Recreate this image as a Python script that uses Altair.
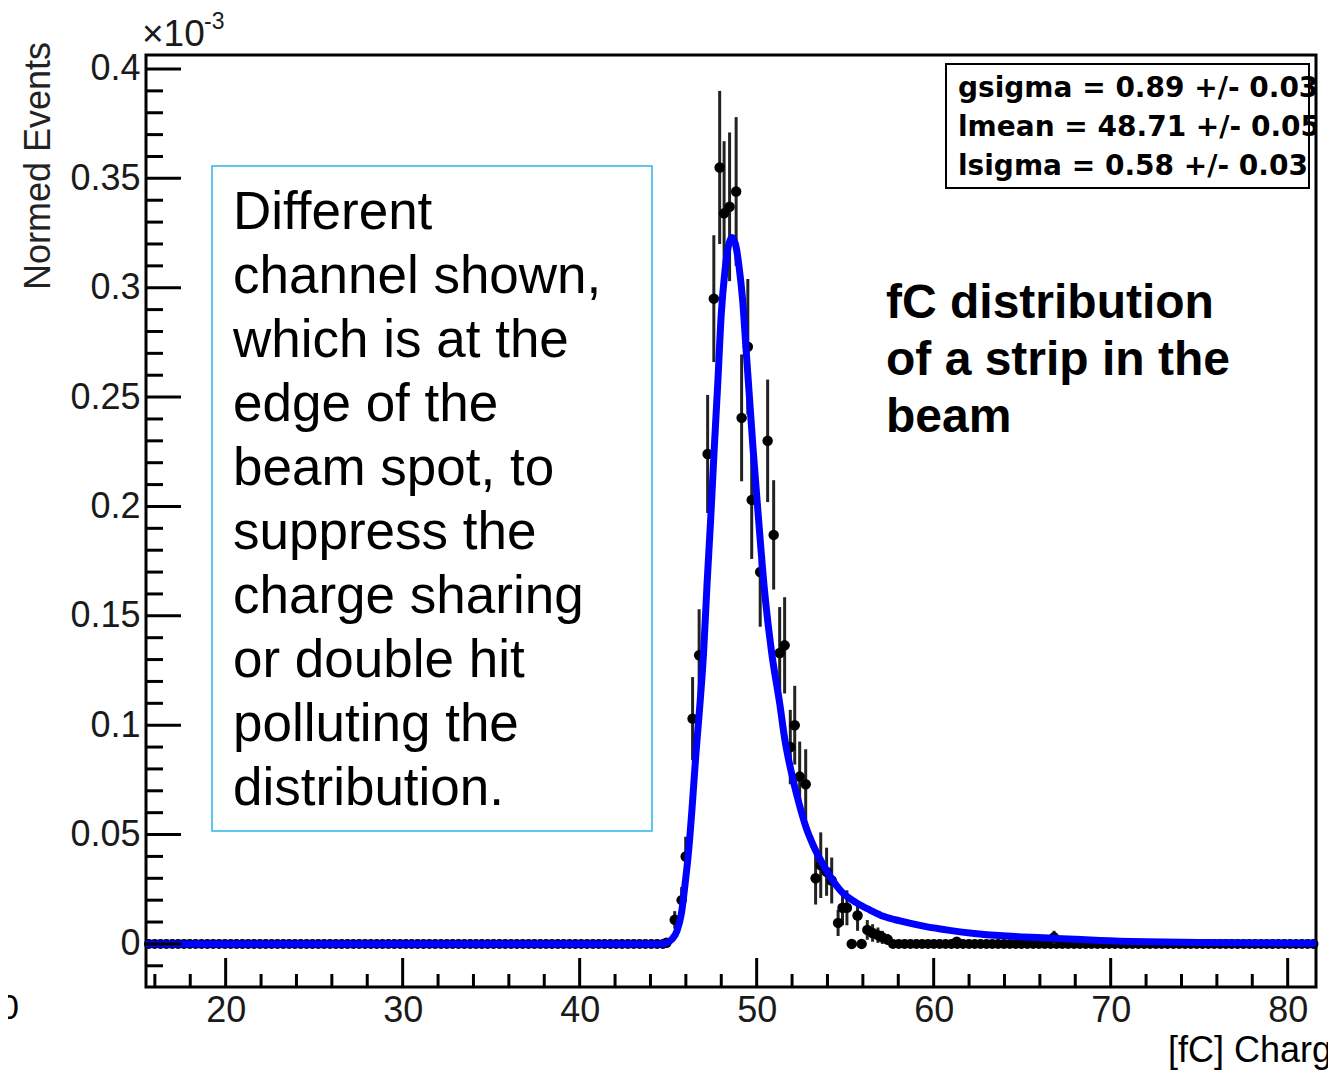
import altair as alt
import pandas as pd
import numpy as np

# ---------------- data ----------------
# histogram bins with content (x in fC, y in units of 1e-3 normed events, e = error)
pt_x = [44.9, 45.37, 45.76, 45.99, 46.38, 46.75, 47.23, 47.58, 47.91, 48.16,
        48.47, 48.84, 49.15, 49.5, 49.72, 50.2, 50.62, 50.96, 51.3, 51.58,
        51.9, 52.15, 52.43, 52.77, 53.33, 53.62, 53.95, 54.24, 54.6, 54.85,
        55.1, 55.37, 55.7, 55.93, 56.25, 56.55, 56.85, 57.1, 57.4, 61.3, 66.8]
pt_y = [0.0005, 0.011, 0.020, 0.040, 0.103, 0.132, 0.224, 0.295, 0.355, 0.334,
        0.337, 0.344, 0.2405, 0.273, 0.203, 0.170, 0.230, 0.187, 0.133, 0.1365,
        0.090, 0.100, 0.0765, 0.073, 0.030, 0.036, 0.033, 0.029, 0.0096, 0.0165,
        0.0165, 0.0, 0.013, 0.0, 0.0064, 0.005, 0.004, 0.003, 0.002, 0.001, 0.003]
pt_e = [0.0, 0.004, 0.006, 0.009, 0.019, 0.021, 0.027, 0.029, 0.035, 0.033,
        0.034, 0.034, 0.029, 0.031, 0.027, 0.025, 0.028, 0.025, 0.021, 0.022,
        0.017, 0.018, 0.016, 0.016, 0.012, 0.015, 0.011, 0.0105, 0.006, 0.008,
        0.008, 0.0, 0.007, 0.0, 0.0045, 0.004, 0.0035, 0.003, 0.0025, 0.002, 0.003]

# empty bins (content 0) - histogram bin centres, bin width 0.33 fC
bin_width = 0.33
zero_x = [round(v, 3) for v in np.arange(15.665, 44.8, bin_width)] + \
         [round(v, 3) for v in np.arange(57.7, 81.6, bin_width)]
zero_y = [0.0] * len(zero_x)

# fitted Landau (x) Gauss curve
fit_x = [15.5, 44.5, 44.9, 45.2, 45.5, 45.75, 45.95, 46.15, 46.35, 46.55,
         46.75, 47.0, 47.2, 47.4, 47.6, 47.8, 48.0, 48.2, 48.4, 48.6,
         48.8, 49.0, 49.2, 49.4, 49.6, 49.8, 50.05, 50.45, 50.85, 51.3,
         51.6, 52.0, 52.4, 52.8, 53.2, 53.7, 54.3, 54.9, 55.6, 56.4,
         57.2, 58.1, 59.5, 60.9, 62.3, 63.7, 65.1, 66.5, 68.0, 69.4,
         72.0, 75.0, 78.0, 81.6]
fit_y = [0.0, 0.0, 0.0005, 0.002, 0.006, 0.014, 0.027, 0.042, 0.062, 0.085,
         0.105, 0.133, 0.165, 0.194, 0.226, 0.256, 0.288, 0.307, 0.319, 0.323,
         0.320, 0.310, 0.295, 0.272, 0.249, 0.226, 0.200, 0.161, 0.133, 0.110,
         0.093, 0.077, 0.064, 0.053, 0.045, 0.037, 0.029, 0.023, 0.019, 0.0155,
         0.0125, 0.0105, 0.008, 0.0062, 0.0048, 0.0038, 0.0032, 0.0027, 0.0021, 0.0016,
         0.0010, 0.0006, 0.0004, 0.0003]

# axis tick positions / labels
x_labels = [20, 30, 40, 50, 60, 70, 80]
x_minor = [16, 18, 22, 24, 26, 28, 32, 34, 36, 38, 42, 44, 46, 48, 52, 54, 56, 58,
           62, 64, 66, 68, 72, 74, 76, 78]
y_labels = [0, 0.05, 0.1, 0.15, 0.2, 0.25, 0.3, 0.35, 0.4]
y_minor = [-0.01, 0.01, 0.02, 0.03, 0.04, 0.06, 0.07, 0.08, 0.09, 0.11, 0.12, 0.13,
           0.14, 0.16, 0.17, 0.18, 0.19, 0.21, 0.22, 0.23, 0.24, 0.26, 0.27, 0.28,
           0.29, 0.31, 0.32, 0.33, 0.34, 0.36, 0.37, 0.38, 0.39]

stats_lines = "gsigma = 0.89 +/- 0.03\nlmean = 48.71 +/- 0.05\nlsigma = 0.58 +/- 0.03"
note_lines = ("Different\nchannel shown,\nwhich is at the\nedge of the\nbeam spot, to\n"
              "suppress the\ncharge sharing\nor double hit\npolluting the\ndistribution.")
side_lines = "fC distribution\nof a strip in the\nbeam"

# ---------------- chart ----------------
W, H = 1170, 932
xs = alt.Scale(domain=[15.5, 81.6], nice=False, zero=False)
ys = alt.Scale(domain=[-0.0197, 0.4064], nice=False, zero=False)
FONT = "Liberation Sans"

axis_common = dict(title=None, grid=False, ticks=False, tickSize=0, domain=False,
                   labelFont=FONT, labelFontSize=36, labelColor="#1a1a1a",
                   labelPadding=6, labelFlush=False, labelOverlap=False)
XAX = alt.Axis(values=x_labels, format="d", **axis_common)
YAX = alt.Axis(values=y_labels, format="~g", **axis_common)

pts = pd.DataFrame({"x": pt_x, "y": pt_y, "e": pt_e})
pts["lo"] = pts["y"] - pts["e"]
pts["hi"] = pts["y"] + pts["e"]
zeros = pd.DataFrame({"x": zero_x, "y": zero_y})
curve = pd.DataFrame({"x": fit_x, "y": fit_y})
one = pd.DataFrame({"k": [0]})


def X(f):
    return alt.X(f, scale=xs, axis=XAX)


def Y(f):
    return alt.Y(f, scale=ys, axis=YAX)


zero_layer = alt.Chart(zeros).mark_circle(size=100, color="black", opacity=1).encode(
    x=X("x:Q"), y=Y("y:Q"))

err_layer = alt.Chart(pts).mark_rule(color="#222222", strokeWidth=3).encode(
    x=X("x:Q"), y=Y("lo:Q"), y2="hi:Q")

pt_layer = alt.Chart(pts).mark_circle(size=110, color="black", opacity=1).encode(
    x=X("x:Q"), y=Y("y:Q"))

fit_layer = alt.Chart(curve).mark_line(color="#0000ff", strokeWidth=7,
                                       interpolate="monotone").encode(
    x=X("x:Q"), y=Y("y:Q"))

ymaj = alt.Chart(pd.DataFrame({"v": y_labels})).mark_rule(color="black", strokeWidth=3).encode(
    y=Y("v:Q"), x=alt.value(0), x2=alt.value(35))
ymin = alt.Chart(pd.DataFrame({"v": y_minor})).mark_rule(color="black", strokeWidth=3).encode(
    y=Y("v:Q"), x=alt.value(0), x2=alt.value(17))
xmaj = alt.Chart(pd.DataFrame({"v": x_labels})).mark_rule(color="black", strokeWidth=3).encode(
    x=X("v:Q"), y=alt.value(H), y2=alt.value(H - 29))
xmin = alt.Chart(pd.DataFrame({"v": x_minor})).mark_rule(color="black", strokeWidth=3).encode(
    x=X("v:Q"), y=alt.value(H), y2=alt.value(H - 13))

note_box = alt.Chart(one).mark_rect(fillOpacity=0, stroke="#2bb5e8", strokeWidth=1.5).encode(
    x=alt.value(66), x2=alt.value(506), y=alt.value(111), y2=alt.value(776))
note_text = alt.Chart(one).mark_text(font=FONT, fontSize=53, align="left", baseline="alphabetic",
                                     lineBreak="\n", lineHeight=64, color="black").encode(
    x=alt.value(87), y=alt.value(174), text=alt.value(note_lines))

side_text = alt.Chart(one).mark_text(font=FONT, fontSize=48, fontWeight="bold", align="left",
                                     baseline="alphabetic", lineBreak="\n", lineHeight=57,
                                     color="black").encode(
    x=alt.value(740), y=alt.value(263), text=alt.value(side_lines))

stats_box = alt.Chart(one).mark_rect(fill="white", stroke="black", strokeWidth=2).encode(
    x=alt.value(800), x2=alt.value(1163), y=alt.value(9), y2=alt.value(133))
stats_text = alt.Chart(one).mark_text(font="DejaVu Sans", fontSize=28, fontWeight="bold",
                                      align="left", baseline="alphabetic", lineBreak="\n",
                                      lineHeight=39, color="black", clip=True).encode(
    x=alt.value(812), y=alt.value(42), text=alt.value(stats_lines))

exp_text = alt.Chart(one).mark_text(font=FONT, fontSize=37, align="left", baseline="alphabetic",
                                    color="#1a1a1a").encode(
    x=alt.value(-4), y=alt.value(-9), text=alt.value("×10"))
exp_sup = alt.Chart(one).mark_text(font=FONT, fontSize=23, align="left", baseline="alphabetic",
                                   color="#1a1a1a").encode(
    x=alt.value(58), y=alt.value(-26), text=alt.value("-3"))

ytitle = alt.Chart(one).mark_text(font=FONT, fontSize=36, angle=270, align="center",
                                  baseline="alphabetic", color="#222222").encode(
    x=alt.value(-96), y=alt.value(111), text=alt.value("Normed Events"))
xtitle = alt.Chart(one).mark_text(font=FONT, fontSize=36, align="left", baseline="middle",
                                  color="black").encode(
    x=alt.value(1022), y=alt.value(996), text=alt.value("[fC] Charge"))
stray = alt.Chart(one).mark_text(font=FONT, fontSize=35, align="right", baseline="middle",
                                 color="black").encode(
    x=alt.value(-127), y=alt.value(953), text=alt.value("0"))

chart = alt.layer(
    zero_layer, err_layer, pt_layer, fit_layer,
    ymaj, ymin, xmaj, xmin,
    note_box, note_text, side_text, stats_box, stats_text,
    exp_text, exp_sup, ytitle, xtitle, stray,
).properties(
    width=W, height=H,
    autosize=alt.AutoSizeParams(type="none"),
    padding={"left": 138, "top": 47, "right": 12, "bottom": 84},
    background="white",
).configure_view(stroke="black", strokeWidth=3)

chart.save("out.html", embed_options={"renderer": "svg", "actions": False})
